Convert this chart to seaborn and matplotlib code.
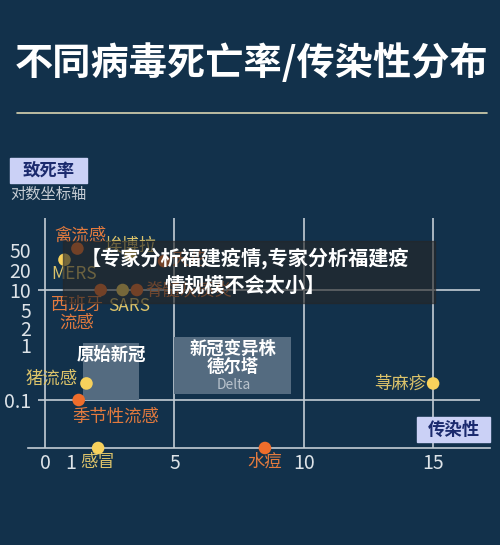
import numpy as np
import pandas as pd
import seaborn as sns
import matplotlib.pyplot as plt
from matplotlib.patches import Rectangle
from matplotlib.lines import Line2D

# ---- data: 传染性 (R0) vs 致死率 (%)
names = ['禽流感', 'MERS', '埃博拉', '天花', '西班牙流感', 'SARS', '脊髓灰质炎',
         '猪流感', '季节性流感', '感冒', '水痘', '荨麻疹']
spread = [1.25, 0.75, 3.3, 4.6, 2.15, 3.0, 3.55, 1.6, 1.3, 2.05, 8.5, 15.0]
fatality = [52, 32, 40, 30, 10, 10, 10, 0.2, 0.1, 0.01, 0.01, 0.2]
groups = ['橙', '黄', '黄', '橙', '橙', '黄', '橙', '黄', '橙', '黄', '橙', '黄']

xtick_vals = [0, 1, 5, 10, 15]
ytick_vals = [0.1, 1, 2, 5, 10, 20, 50]
ytick_labels = ['0.1', '1', '2', '5', '10', '20', '50']

# 新冠 ranges (R0 range, 致死率 range)
box_labels = ['原始新冠', '新冠变异株\n德尔塔']
box_x = [(1.47, 3.63), (5.0, 9.5)]
box_y = [(0.1, 1.09), (0.13, 1.39)]

df = pd.DataFrame({'name': names, '传染性': spread, '致死率': fatality, '组': groups})

# label placement: offset in points, alignment
label_pos = {
    '禽流感': (2, 9, 'center'), 'MERS': (7, -10, 'center'), '埃博拉': (0, 6, 'center'),
    '天花': (5, 1, 'left'), '西班牙流感': (-17, -17, 'center'), 'SARS': (5, -11.5, 'center'),
    '脊髓灰质炎': (6, 0, 'left'), '猪流感': (-6, 3.5, 'right'), '季节性流感': (26.5, -12, 'center'),
    '感冒': (0, -10, 'center'), '水痘': (0, -10, 'center'), '荨麻疹': (-5, 0, 'right'),
}
label_text = {'西班牙流感': '西班牙\n流感'}

# "对数坐标轴": piecewise log mapping of the original chart
scale_vals = np.log10([0.01, 0.1, 1, 2, 5, 10, 20, 50, 120])
scale_pos = [0, 48, 103, 120, 138, 158, 178, 198, 230]

def fwd(v):
    return np.interp(np.log10(np.clip(v, 1e-9, None)), scale_vals, scale_pos)

def inv(p):
    return 10 ** np.interp(p, scale_pos, scale_vals)

bg = '#12314b'
line_c = '#c3ccd5'
dot_pal = {'橙': '#ef6d2b', '黄': '#f7d15c'}
txt_pal = {'橙': '#e27a3e', '黄': '#dcc36a'}

sns.set_style('dark', rc={'axes.facecolor': bg, 'figure.facecolor': bg})
plt.rcParams['font.family'] = ['Noto Sans CJK SC', 'DejaVu Sans']

fig = plt.figure(figsize=(5, 5.45), dpi=100)
ax = fig.add_axes([28 / 500, 1 - 448 / 545, 462 / 500, 230 / 545])

sns.scatterplot(data=df, x='传染性', y='致死率', hue='组', palette=dot_pal,
                s=82, edgecolor='none', legend=False, ax=ax, clip_on=False, zorder=5)
ax.set_yscale('function', functions=(fwd, inv))
ax.set_xlim(-0.66, 17.2)
ax.set_ylim(0.01, 120)
ax.set_xlabel('')
ax.set_ylabel('')
ax.grid(False)

# axes and reference lines
for s in ['top', 'right', 'left']:
    ax.spines[s].set_visible(False)
ax.spines['bottom'].set_color(line_c)
ax.spines['bottom'].set_linewidth(1.2)
ax.axvline(0, color=line_c, lw=1.2, zorder=1)
for xv in [5, 10, 15]:
    ax.axvline(xv, color=line_c, lw=1.2, zorder=1)
ax.hlines([10, 0.1], -0.27, 16.83, color=line_c, lw=1.2, zorder=1)

ax.set_xticks(xtick_vals)
ax.set_yticks(ytick_vals, ytick_labels)
ax.minorticks_off()
ax.tick_params(axis='both', length=0, colors='#dde3e8', labelsize=14)
ax.tick_params(axis='y', pad=-2)
ax.tick_params(axis='x', pad=3.5)

# 新冠 boxes
for lab, (x0, x1), (y0, y1) in zip(box_labels, box_x, box_y):
    ax.fill_between([x0, x1], y0, y1, color='#546b80', lw=0, zorder=2)
    ax.annotate(lab, xy=((x0 + x1) / 2, y1), xytext=(0, -2), textcoords='offset points',
                ha='center', va='top', color='white', fontsize=12.5, fontweight='bold',
                linespacing=1.05, zorder=3)
ax.annotate('Delta', xy=(sum(box_x[1]) / 2, box_y[1][0]), xytext=(1, 1.5),
            textcoords='offset points', ha='center', va='bottom', color='#b9c3cd',
            fontsize=10, zorder=3)

# point labels
for _, r in df.iterrows():
    dx, dy, ha = label_pos[r['name']]
    ax.annotate(label_text.get(r['name'], r['name']), xy=(r['传染性'], r['致死率']),
                xytext=(dx, dy), textcoords='offset points', ha=ha, va='center',
                color=txt_pal[r['组']], fontsize=12.5, linespacing=1.0, zorder=6,
                annotation_clip=False)

# title
fig.text(0.503, 1 - 63 / 545, '不同病毒死亡率/传染性分布', ha='center', va='center',
         color='white', fontsize=27.5, fontweight='bold')
fig.add_artist(Line2D([17 / 500, 487 / 500], [1 - 113 / 545] * 2, color='#d9d4b0', lw=1.2))

# axis tags
fig.add_artist(Rectangle((10 / 500, 1 - 183 / 545), 77 / 500, 25 / 545,
                         transform=fig.transFigure, color='#cbd1f6', zorder=3))
fig.text(48.5 / 500, 1 - 171 / 545, '致死率', ha='center', va='center', color='#1b2a6e',
         fontsize=12.5, fontweight='bold', zorder=4)
fig.text(48.5 / 500, 1 - 194 / 545, '对数坐标轴', ha='center', va='center', color='#c6cdd4',
         fontsize=11)
fig.add_artist(Rectangle((417 / 500, 1 - 442 / 545), 73 / 500, 25 / 545,
                         transform=fig.transFigure, color='#cbd1f6', zorder=3))
fig.text(453.5 / 500, 1 - 430 / 545, '传染性', ha='center', va='center', color='#1b2a6e',
         fontsize=12.5, fontweight='bold', zorder=4)

# overlay banner
fig.add_artist(Rectangle((63 / 500, 1 - 303 / 545), 372 / 500, 62 / 545,
                         transform=fig.transFigure, color='#262626', alpha=0.62, zorder=10))
fig.text(245 / 500, 1 - 271.5 / 545, '【专家分析福建疫情,专家分析福建疫\n情规模不会太小】',
         ha='center', va='center', color='white', fontsize=14.5, fontweight='bold',
         linespacing=1.3, zorder=11)

fig.savefig('out.png', dpi=100, facecolor=bg)
